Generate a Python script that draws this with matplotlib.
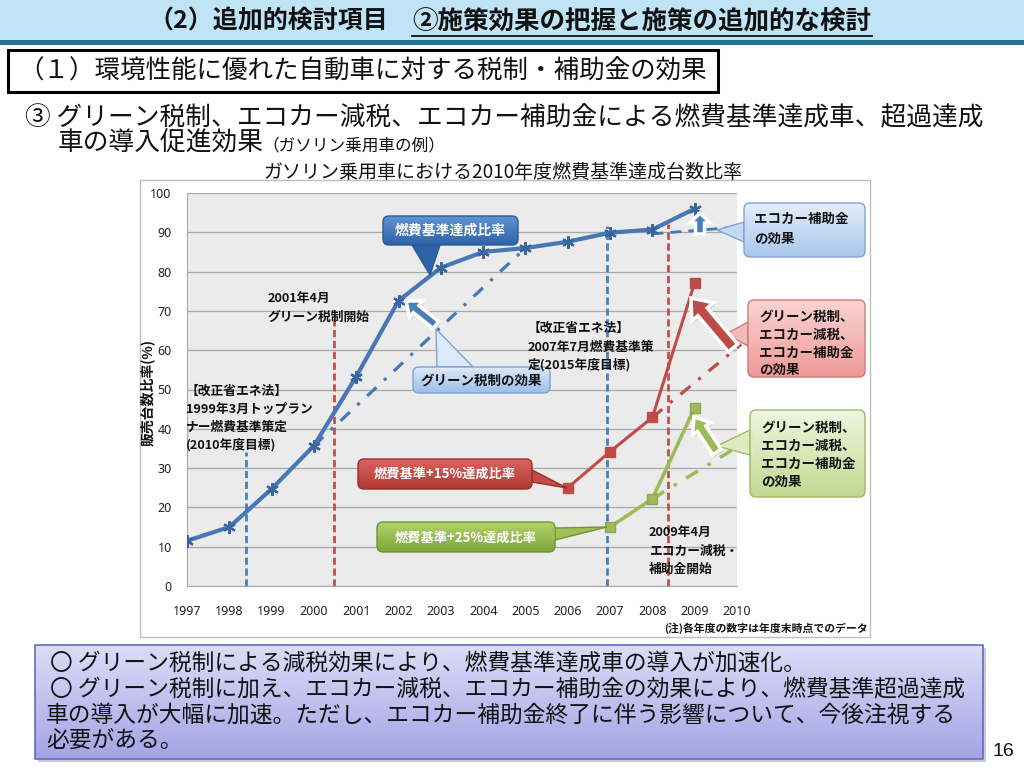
import numpy as np
import matplotlib
matplotlib.use("Agg")
import matplotlib.pyplot as plt
from matplotlib.patches import FancyBboxPatch, Rectangle, Polygon, FancyArrow
from matplotlib.colors import to_rgb

plt.rcParams['font.family'] = ['Noto Sans CJK JP', 'DejaVu Sans']

# ---------------- data ----------------
years = [1997, 1998, 1999, 2000, 2001, 2002, 2003, 2004, 2005, 2006, 2007, 2008, 2009, 2010]
year_labels = [str(y) for y in years]

base_years = [1997, 1998, 1999, 2000, 2001, 2002, 2003, 2004, 2005, 2006, 2007, 2008, 2009]
base_rate = [11.5, 15.0, 24.7, 35.7, 53.3, 72.6, 81.0, 85.0, 86.0, 87.6, 89.9, 90.7, 96.0]

p15_years = [2006, 2007, 2008, 2009]
p15_rate = [25.0, 34.2, 42.9, 77.2]

p25_years = [2007, 2008, 2009]
p25_rate = [15.0, 22.2, 45.4]

# hypothetical trend lines (without policy)
trend_base_x = [2000, 2005]
trend_base_y = [35.7, 86.0]
trend_base2_x = [2008, 2010.1]
trend_base2_y = [89.6, 91.4]
trend_p15_x = [2008, 2010.1]
trend_p15_y = [42.9, 61.5]
trend_p25_x = [2008, 2010.1]
trend_p25_y = [22.2, 36.0]

# policy events (vertical lines)
event_x = [1998.39, 2000.47, 2006.93, 2008.37]
event_top = [34, 69, 91.5, 92]
event_color = ['#4A7EBB', '#C0504D', '#4A7EBB', '#C0504D']

yticks = [0, 10, 20, 30, 40, 50, 60, 70, 80, 90, 100]

BLUE = '#4777B5'
RED = '#BE4B48'
GREEN = '#9BBB59'

# ---------------- figure ----------------
W, H = 1024, 768
fig = plt.figure(figsize=(W / 100, H / 100), dpi=100)

bg = fig.add_axes([0, 0, 1, 1], zorder=0)
bg.set_xlim(0, W); bg.set_ylim(H, 0); bg.axis('off')

# chart axes: x 187..737 px, y 193..586 px
L, R, T, B = 187, 737, 193, 586
ax = fig.add_axes([L / W, (H - B) / H, (R - L) / W, (B - T) / H], zorder=1)

ov = fig.add_axes([0, 0, 1, 1], zorder=2)
ov.set_xlim(0, W); ov.set_ylim(H, 0); ov.axis('off')
ov.patch.set_alpha(0)


def grad_box(a, x0, y0, x1, y1, c_top, c_bot, ec, lw=1.0, r=6, z=5):
    patch = FancyBboxPatch((x0, y0), x1 - x0, y1 - y0,
                           boxstyle=f"round,pad=0,rounding_size={r}",
                           fc='none', ec=ec, lw=lw, zorder=z + 0.3)
    a.add_patch(patch)
    top = np.array(to_rgb(c_top)); bot = np.array(to_rgb(c_bot))
    t = np.linspace(0, 1, 64)[:, None]
    img = (top * (1 - t) + bot * t)[:, None, :]
    im = a.imshow(img, extent=[x0, x1, y1, y0], origin='upper', aspect='auto',
                  zorder=z, interpolation='bilinear')
    im.set_clip_path(patch)
    a.set_xlim(0, W); a.set_ylim(H, 0)
    return patch


def mix(c_top, c_bot, f):
    a = np.array(to_rgb(c_top)); b = np.array(to_rgb(c_bot))
    return tuple(a * (1 - f) + b * f)


def callout(a, box, c_top, c_bot, ec, base, tip, z=6):
    x0, y0, x1, y1 = box
    (bx1, by1), (bx2, by2) = base
    fy = np.clip(((by1 + by2) / 2 - y0) / (y1 - y0), 0, 1)
    col = mix(c_top, c_bot, fy)
    a.add_patch(Polygon([base[0], tip, base[1]], closed=True, fc=col, ec=ec,
                        lw=1.0, zorder=z - 0.5))
    grad_box(a, x0, y0, x1, y1, c_top, c_bot, ec, z=z)

    def inset(px, py):
        dx = 0 if x0 < px < x1 else (3 if px <= x0 else -3)
        dy = 0 if y0 < py < y1 else (3 if py <= y0 else -3)
        return (px + dx, py + dy)
    p1 = inset(bx1, by1); p2 = inset(bx2, by2)
    a.add_patch(Polygon([p1, (tip[0] * 0.05 + p1[0] * 0.95, tip[1] * 0.05 + p1[1] * 0.95),
                         (tip[0] * 0.05 + p2[0] * 0.95, tip[1] * 0.05 + p2[1] * 0.95), p2],
                        closed=True, fc=col, ec='none', zorder=z + 0.5))


def lines(a, x, ys, texts, size, color='#111111', weight='bold', z=8):
    for y, s in zip(ys, texts):
        a.text(x, y, s, fontsize=size, color=color, fontweight=weight,
               ha='left', va='center', zorder=z)


# ---------------- slide decorations ----------------
bg.add_patch(Rectangle((0, 0), W, 40, fc='#BFE4F5', ec='none'))
bg.add_patch(Rectangle((0, 40), W, 5, fc='#26708F', ec='none'))
bg.text(148, 21, '（2）追加的検討項目', fontsize=18, fontweight='bold',
        ha='left', va='center', color='#111111')
bg.text(412, 21, '②施策効果の把握と施策の追加的な検討', fontsize=18.4, fontweight='bold',
        ha='left', va='center', color='#111111')
bg.plot([412, 872], [36, 36], color='#111111', lw=1.3)

bg.add_patch(Rectangle((10, 52), 710, 42, fc='#BBBBBB', ec='none'))
bg.add_patch(Rectangle((8, 50), 710, 42, fc='white', ec='black', lw=2.2))
bg.text(18, 72, '（１）環境性能に優れた自動車に対する税制・補助金の効果', fontsize=18.4,
        ha='left', va='center', color='#111111')

bg.text(25, 118, '③ グリーン税制、エコカー減税、エコカー補助金による燃費基準達成車、超過達成',
        fontsize=18.5, ha='left', va='center', color='#111111')
bg.text(58, 144, '車の導入促進効果', fontsize=18.5, ha='left', va='center', color='#111111')
bg.text(262, 146, '（ガソリン乗用車の例）', fontsize=12, ha='left', va='center', color='#111111')

# chart frame
bg.add_patch(Rectangle((140, 180), 730, 457, fc='white', ec='#BFBFBF', lw=1.0))
bg.text(503, 172, 'ガソリン乗用車における2010年度燃費基準達成台数比率', fontsize=13.7,
        ha='center', va='center', color='#111111')
bg.text(147, 392, '販売台数比率(%)', fontsize=10, fontweight='bold', rotation=90,
        ha='center', va='center', color='#111111')
bg.text(868, 628, '(注)各年度の数字は年度末時点でのデータ', fontsize=7.8, fontweight='bold',
        ha='right', va='center', color='#111111')

# bottom summary box
bg.add_patch(Rectangle((38, 648), 948, 114, fc='#C8C8D8', ec='none'))
grad_box(bg, 35, 645, 983, 759, '#DCDCF8', '#A4A4E6', '#6A6AB8', lw=1.2, r=0.1, z=2)
lines(bg, 50, [663, 690], ['〇 グリーン税制による減税効果により、燃費基準達成車の導入が加速化。',
                           '〇 グリーン税制に加え、エコカー減税、エコカー補助金の効果により、燃費基準超過達成'],
      16.4, weight='normal')
lines(bg, 46, [715, 740], ['車の導入が大幅に加速。ただし、エコカー補助金終了に伴う影響について、今後注視する',
                           '必要がある。'], 16.4, weight='normal')
bg.text(1003, 751, '16', fontsize=14, ha='center', va='center', color='#111111',
        family=['Liberation Sans', 'DejaVu Sans'])

# ---------------- chart ----------------
ax.set_facecolor('#EBEBEB')
ax.set_xlim(years[0], years[-1])
ax.set_ylim(0, 100)
ax.set_yticks(yticks)
ax.set_yticklabels([str(v) for v in yticks])
ax.set_xticks(years)
ax.set_xticklabels(year_labels)
ax.tick_params(length=0, labelsize=9, labelcolor='#222222')
ax.tick_params(axis='y', pad=11)
ax.tick_params(axis='x', pad=14)
for lab in ax.get_xticklabels() + ax.get_yticklabels():
    lab.set_family(['Noto Sans', 'DejaVu Sans'])
ax.grid(axis='y', color='#A8A8A8', lw=0.9)
ax.set_axisbelow(True)
for side in ['top', 'right']:
    ax.spines[side].set_visible(False)
for side in ['left', 'bottom']:
    ax.spines[side].set_color('#A8A8A8')

for ex, et, ec in zip(event_x, event_top, event_color):
    ax.plot([ex, ex], [0, et], color=ec, lw=2.0, ls=(0, (2.6, 1.3)), zorder=2)

ax.plot(trend_base_x, trend_base_y, color=BLUE, lw=2.3, ls=(0, (4, 3.2, 1, 3.2)), zorder=3)
ax.plot(trend_base2_x, trend_base2_y, color=BLUE, lw=2.0, ls=(0, (4, 2.5)), zorder=3, clip_on=False)
ax.plot(trend_p15_x, trend_p15_y, color=RED, lw=2.3, ls=(0, (4, 3.2, 1, 3.2)), zorder=3, clip_on=False)
ax.plot(trend_p25_x, trend_p25_y, color=GREEN, lw=2.5, ls=(0, (4, 3.2, 1, 3.2)), zorder=3, clip_on=False)

ax.plot(base_years, base_rate, color=BLUE, lw=3.0, marker=(6, 2, 0), ms=9, mew=1.6,
        mec='#3A66A0', zorder=5)
ax.plot(p15_years, p15_rate, color=RED, lw=2.2, marker='s', ms=7, mfc=RED, mec=RED, zorder=5)
ax.plot(p25_years, p25_rate, color=GREEN, lw=2.6, marker='s', ms=7, mfc='#A4B85A', mec='#8AA650', zorder=5)

# ---------------- annotations (overlay, pixel coords) ----------------
lines(ov, 268, [298, 317], ['2001年4月', 'グリーン税制開始'], 9.2)
lines(ov, 186, [391, 409, 427, 445], ['【改正省エネ法】', '1999年3月トップラン', 'ナー燃費基準策定', '(2010年度目標)'], 9.2)
lines(ov, 528, [328, 347, 365], ['【改正省エネ法】', '2007年7月燃費基準策', '定(2015年度目標)'], 9.2)
lines(ov, 649, [532, 551, 569], ['2009年4月', 'エコカー減税・', '補助金開始'], 9.2)


def block_arrow(tail, tip, w, hw, hl, fc):
    dx, dy = tip[0] - tail[0], tip[1] - tail[1]
    ov.add_patch(FancyArrow(tail[0] + 2, tail[1] + 2, dx, dy, width=w, head_width=hw, head_length=hl,
                            length_includes_head=True, fc='#999999', ec='none', alpha=0.35, zorder=6))
    ov.add_patch(FancyArrow(tail[0], tail[1], dx, dy, width=w, head_width=hw, head_length=hl,
                            length_includes_head=True, fc=fc, ec='white', lw=2.5, zorder=6.2))

block_arrow((436, 325), (406, 301), 9, 21, 13, '#4A7EBB')
block_arrow((700, 234), (700, 213), 9, 20, 10, '#4A7EBB')
block_arrow((733, 348), (691, 298), 12, 28, 18, '#BE4B48')
block_arrow((717, 452), (694, 417), 10, 22, 14, '#9BBB59')

# callouts
callout(ov, (383, 216, 518, 245), '#5F93D3', '#2F63A8', '#2C5A94',
        ((412, 245), (440, 245)), (430, 275))
ov.text(450, 231, '燃費基準達成比率', fontsize=10, fontweight='bold', color='white',
        ha='center', va='center', zorder=9)

callout(ov, (413, 367, 550, 393), '#DDE9F8', '#9CBFEA', '#7DA2D4',
        ((437, 367), (473, 367)), (436, 329))
ov.text(481, 381, 'グリーン税制の効果', fontsize=9.7, fontweight='bold', color='#111111',
        ha='center', va='center', zorder=9)

callout(ov, (358, 459, 532, 489), '#DC6460', '#B03835', '#9A2E2B',
        ((532, 470), (532, 482)), (567, 488))
ov.text(445, 474, '燃費基準+15%達成比率', fontsize=9.5, fontweight='bold', color='white',
        ha='center', va='center', zorder=9)

callout(ov, (377, 522, 555, 552), '#B2D26C', '#7EA63A', '#6F9530',
        ((555, 528), (555, 540)), (607, 527))
ov.text(466, 538, '燃費基準+25%達成比率', fontsize=9.5, fontweight='bold', color='white',
        ha='center', va='center', zorder=9)

callout(ov, (744, 203, 865, 257), '#E4EEFA', '#A8C7EE', '#7FA4D6',
        ((744, 222), (744, 242)), (717, 230))
lines(ov, 754, [219, 239], ['エコカー補助金', 'の効果'], 9.7, z=9)

callout(ov, (748, 300, 865, 377), '#FAD3D2', '#EE9A98', '#D07A78',
        ((748, 322), (748, 346)), (726, 334))
lines(ov, 759, [317, 335, 353, 370], ['グリーン税制、', 'エコカー減税、', 'エコカー補助金', 'の効果'], 9.7, z=9)

callout(ov, (750, 410, 865, 497), '#EFF6E0', '#C2D991', '#9DBB62',
        ((750, 430), (750, 455)), (717, 446))
lines(ov, 761, [428, 446, 464, 482], ['グリーン税制、', 'エコカー減税、', 'エコカー補助金', 'の効果'], 9.7, z=9)

fig.savefig('out.png', dpi=100)
